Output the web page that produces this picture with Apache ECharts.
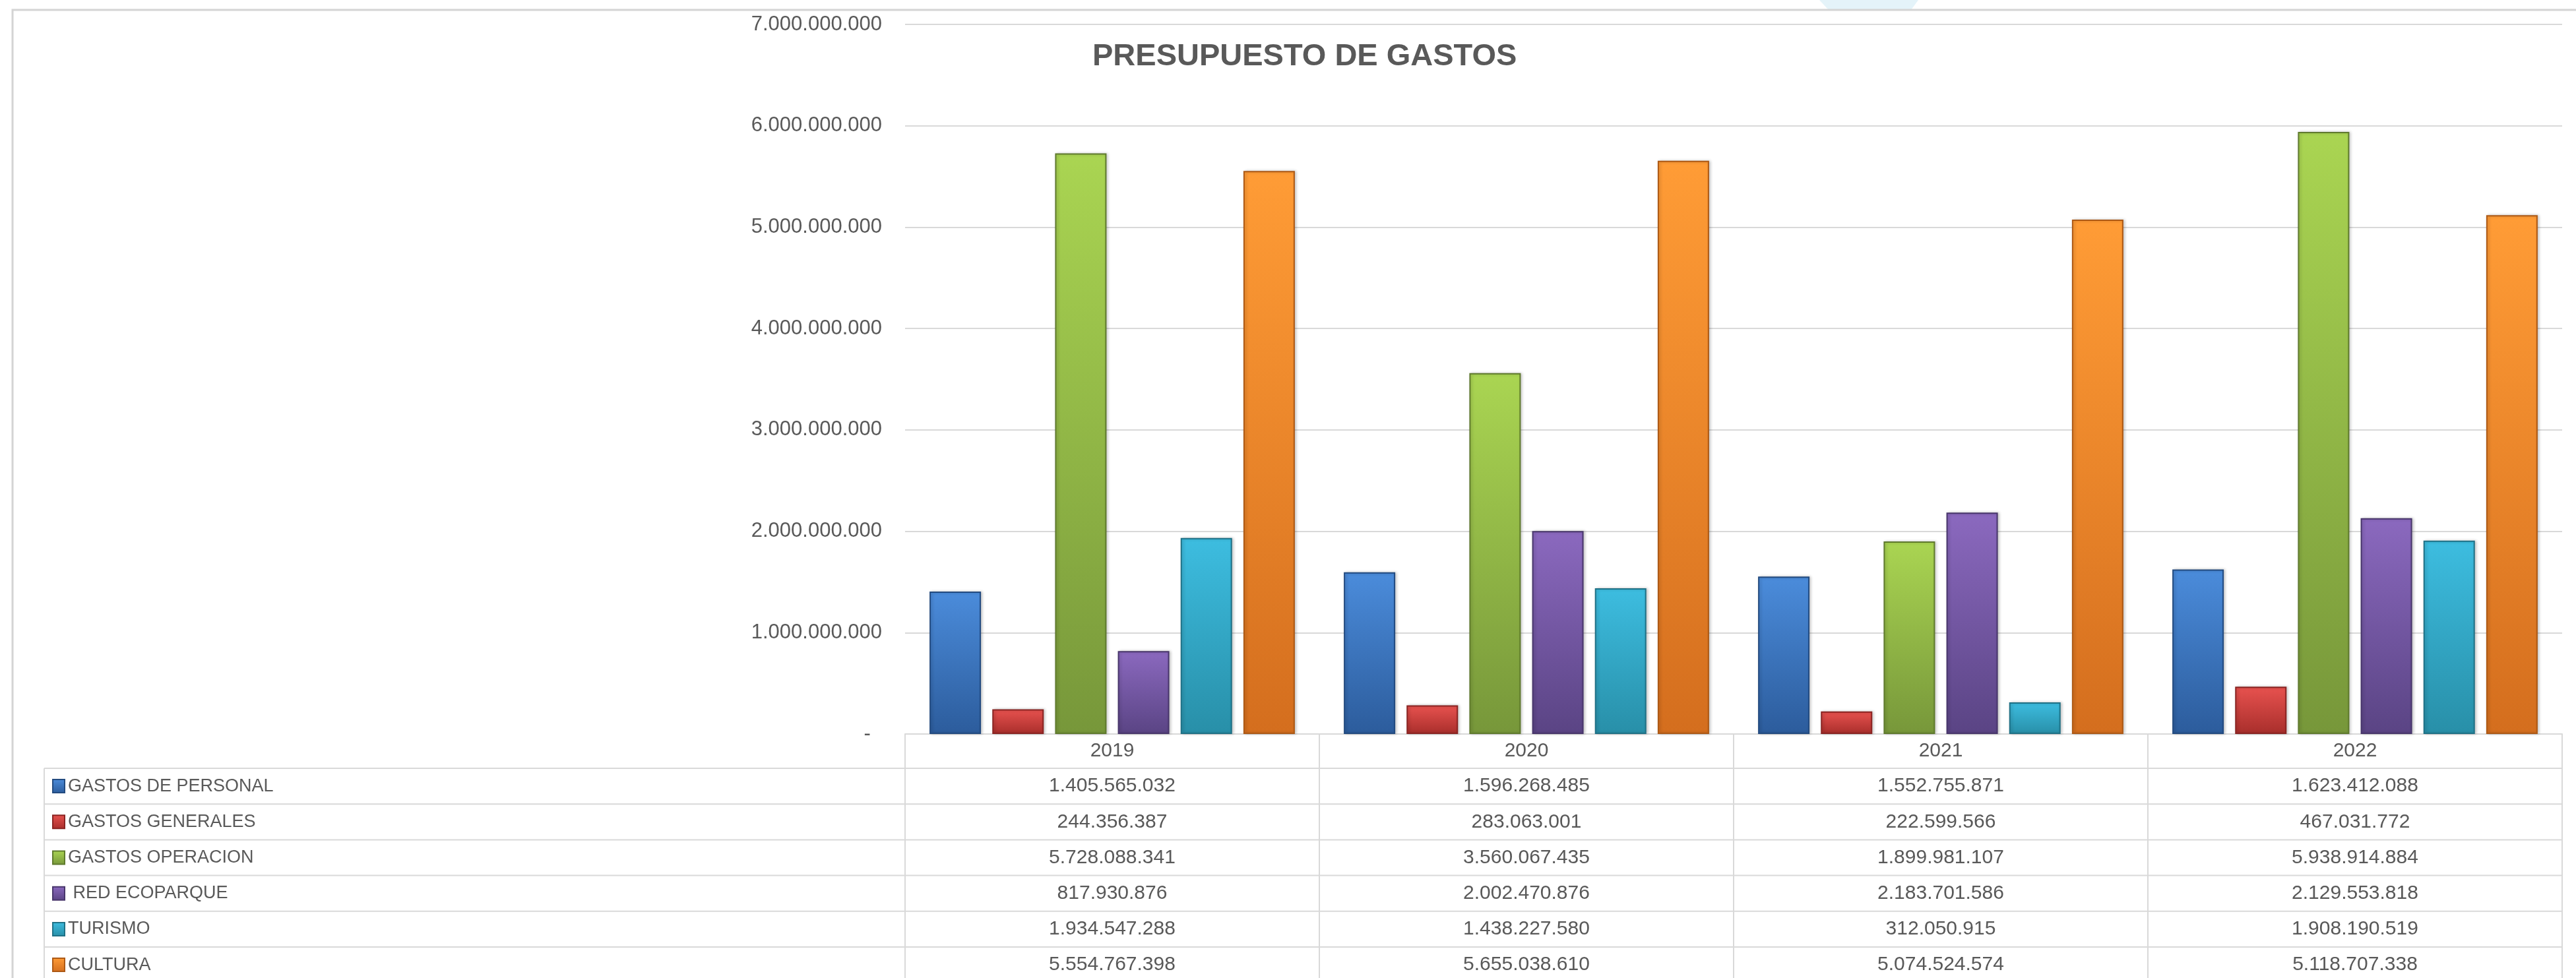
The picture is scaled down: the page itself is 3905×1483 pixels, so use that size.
<!DOCTYPE html>
<html>
<head>
<meta charset="utf-8">
<title>Presupuesto de gastos</title>
<script src="https://cdn.jsdelivr.net/npm/echarts@6/dist/echarts.min.js"></script>
<style>
    html, body { margin: 0; padding: 0; background: #fff; }
    #main { width: 3905px; height: 1483px; }
</style>
</head>
<body>
<div id="main"></div>
<script>
let years = ['2019', '2020', '2021', '2022'];

let gastosPersonal = [1405565032, 1596268485, 1552755871, 1623412088];
let gastosGenerales = [244356387, 283063001, 222599566, 467031772];
let gastosOperacion = [5728088341, 3560067435, 1899981107, 5938914884];
let redEcoparque = [817930876, 2002470876, 2183701586, 2129553818];
let turismo = [1934547288, 1438227580, 312050915, 1908190519];
let cultura = [5554767398, 5655038610, 5074524574, 5118707338];

let seriesNames = ['GASTOS DE PERSONAL', 'GASTOS GENERALES', 'GASTOS OPERACION', ' RED ECOPARQUE', 'TURISMO', 'CULTURA'];
let seriesData = [gastosPersonal, gastosGenerales, gastosOperacion, redEcoparque, turismo, cultura];

// top / bottom / border colour for each bar
let barColors = [
    ['#4b8cdb', '#2c5c9c', '#234b80'],
    ['#e8524f', '#a82e2b', '#8a2422'],
    ['#aad552', '#77973a', '#5f7a2d'],
    ['#8b69bf', '#5a4484', '#48366b'],
    ['#3dbde0', '#288fa8', '#1f7186'],
    ['#ff9c36', '#d46e1e', '#ad5915']
];

let yTicks = [0, 1000000000, 2000000000, 3000000000, 4000000000, 5000000000, 6000000000, 7000000000];

const textFont = '"Liberation Sans", Arial, sans-serif';
const gray = '#595959';
const lineGray = '#d9d9d9';

// data table under the chart
const tableLeft = 67;
const tableRight = 3884;
const zeroY = 1113;
const headerH = 52;
const headerBottom = zeroY + headerH;
const rowH = 54.2;

function dots(n) {
    return String(n).replace(/\B(?=(\d{3})+(?!\d))/g, '.');
}

let tableLines = [];
for (let i = 0; i < seriesNames.length; i++) {
    let y = headerBottom + i * rowH;
    tableLines.push({
        type: 'line',
        shape: { x1: tableLeft, y1: y, x2: tableRight, y2: y },
        style: { stroke: lineGray, lineWidth: 2 }
    });
}
tableLines.push({
    type: 'line',
    shape: { x1: tableLeft, y1: headerBottom, x2: tableLeft, y2: 1483 },
    style: { stroke: lineGray, lineWidth: 2 }
});

const option = {
    backgroundColor: '#fff',
    animation: false,
    title: {
        text: 'PRESUPUESTO DE GASTOS',
        left: 1656,
        top: 63,
        padding: 0,
        textStyle: {
            fontFamily: textFont,
            fontSize: 47,
            fontWeight: 'bold',
            color: gray
        }
    },
    legend: {
        data: seriesNames,
        orient: 'vertical',
        left: 79,
        top: headerBottom + rowH / 2 - 15,
        padding: 0,
        itemWidth: 18,
        itemHeight: 20,
        itemGap: rowH - 30,
        selectedMode: false,
        icon: 'rect',
        textStyle: {
            fontFamily: textFont,
            fontSize: 27,
            lineHeight: 30,
            color: gray
        }
    },
    grid: {
        left: 1372,
        right: 3905 - tableRight,
        top: 37,
        bottom: 1483 - zeroY
    },
    xAxis: {
        type: 'category',
        data: years,
        axisLine: { lineStyle: { color: lineGray, width: 2 } },
        axisTick: { show: true, length: 380, lineStyle: { color: lineGray, width: 2 } },
        axisLabel: {
            interval: 0,
            margin: 0,
            fontFamily: textFont,
            fontSize: 30,
            color: gray,
            formatter: (value, idx) => {
                let lines = ['{h|' + value + '}'];
                seriesData.forEach(d => lines.push('{v|' + dots(d[idx]) + '}'));
                return lines.join('\n');
            },
            rich: {
                h: { fontFamily: textFont, fontSize: 30, color: gray, lineHeight: headerH },
                v: { fontFamily: textFont, fontSize: 30, color: gray, lineHeight: rowH }
            }
        }
    },
    yAxis: {
        type: 'value',
        min: yTicks[0],
        max: yTicks[yTicks.length - 1],
        interval: yTicks[1] - yTicks[0],
        axisLine: { show: false },
        axisTick: { show: false },
        splitLine: { lineStyle: { color: lineGray, width: 2 } },
        axisLabel: {
            margin: 35,
            fontFamily: textFont,
            fontSize: 31,
            color: gray,
            formatter: v => v === 0 ? '-  ' : dots(v)
        }
    },
    series: seriesNames.map((name, i) => ({
        name: name,
        type: 'bar',
        data: seriesData[i],
        barWidth: 78,
        barGap: '22%',
        itemStyle: {
            color: new echarts.graphic.LinearGradient(0, 0, 0, 1, [
                { offset: 0, color: barColors[i][0] },
                { offset: 1, color: barColors[i][1] }
            ]),
            borderColor: barColors[i][2],
            borderWidth: 2,
            shadowColor: 'rgba(0,0,0,0.2)',
            shadowBlur: 4,
            shadowOffsetX: 2
        }
    })),
    graphic: [
        {
            type: 'polygon',
            shape: { points: [[2758, 0], [2908, 0], [2897, 15], [2772, 15]] },
            style: { fill: '#e4f3f9' },
            silent: true
        },
        {
            type: 'polyline',
            shape: { points: [[19, 1483], [19, 15], [3905, 15]] },
            style: { stroke: '#d4d4d4', lineWidth: 3, fill: null },
            silent: true
        }
    ].concat(tableLines)
};

let plot = echarts.init(document.querySelector('#main'));
plot.setOption(option);
</script>
</body>
</html>
